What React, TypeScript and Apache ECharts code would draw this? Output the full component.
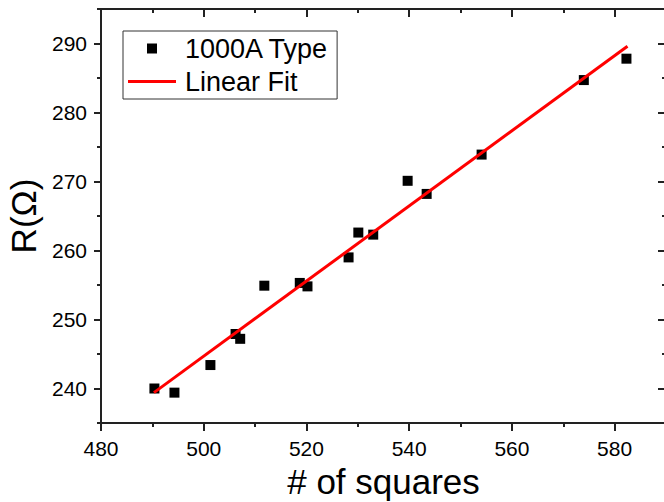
import React, { useEffect, useRef } from "react";
import * as echarts from "echarts";

const squaresX = [490.4, 494.3, 501.3, 506.2, 507.1, 511.8, 518.7, 520.2, 528.2, 530.1, 533.0, 539.7, 543.4, 554.1, 574.0, 582.3];
const resistanceY = [240.0, 239.4, 243.4, 247.9, 247.2, 254.9, 255.3, 254.8, 259.0, 262.6, 262.3, 270.1, 268.2, 273.9, 284.7, 287.8];
const fitX = [490.3, 582.5];
const fitY = [239.4, 289.6];
const xMajorTicks = [480, 500, 520, 540, 560, 580];
const xMinorTicks = [490, 510, 530, 550, 570, 590];
const yMajorTicks = [240, 250, 260, 270, 280, 290];
const yMinorTicks = [235, 245, 255, 265, 275, 285, 295];
const seriesNames = ["1000A Type", "Linear Fit"];

const FONT = "Liberation Sans, Arial, sans-serif";
const AXIS_COLOR = "#222";

export default function App() {
  const ref = useRef<HTMLDivElement>(null);

  useEffect(() => {
    if (!ref.current) return;
    const chart = echarts.init(ref.current, null, { renderer: "svg" });

    const xRange = { min: 480, max: 590 };
    const yRange = { min: 235, max: 295 };
    const line = { lineStyle: { color: AXIS_COLOR, width: 2 } };

    const xAxis = [
      {
        type: "value", position: "bottom", ...xRange,
        axisLine: { show: true, ...line },
        axisTick: { show: true, customValues: xMajorTicks, length: 8, inside: false, ...line },
        axisLabel: { customValues: xMajorTicks, fontSize: 21, color: "#000", fontFamily: FONT, margin: 15 },
        splitLine: { show: false },
        name: "# of squares", nameLocation: "middle", nameGap: 41,
        nameTextStyle: { fontSize: 35, color: "#000", fontFamily: FONT },
      },
      {
        type: "value", position: "bottom", ...xRange,
        axisLine: { show: false },
        axisTick: { show: true, customValues: xMinorTicks, length: 4, inside: false, ...line },
        axisLabel: { show: false },
        splitLine: { show: false },
      },
      {
        type: "value", position: "top", ...xRange,
        axisLine: { show: true, ...line },
        axisTick: { show: true, customValues: xMajorTicks, length: 8, inside: true, ...line },
        axisLabel: { show: false },
        splitLine: { show: false },
      },
      {
        type: "value", position: "top", ...xRange,
        axisLine: { show: false },
        axisTick: { show: true, customValues: xMinorTicks, length: 4, inside: true, ...line },
        axisLabel: { show: false },
        splitLine: { show: false },
      },
    ];

    const yAxis = [
      {
        type: "value", position: "left", ...yRange,
        axisLine: { show: true, ...line },
        axisTick: { show: true, customValues: yMajorTicks, length: 7, inside: false, ...line },
        axisLabel: { customValues: yMajorTicks, fontSize: 21, color: "#000", fontFamily: FONT, margin: 14 },
        splitLine: { show: false },
        name: "R(Ω)", nameLocation: "middle", nameGap: 60,
        nameTextStyle: { fontSize: 35, color: "#000", fontFamily: FONT },
      },
      {
        type: "value", position: "left", ...yRange,
        axisLine: { show: false },
        axisTick: { show: true, customValues: yMinorTicks, length: 4, inside: false, ...line },
        axisLabel: { show: false },
        splitLine: { show: false },
      },
      {
        type: "value", position: "right", ...yRange,
        axisLine: { show: true, ...line },
        axisTick: { show: true, customValues: yMajorTicks, length: 8, inside: true, ...line },
        axisLabel: { show: false },
        splitLine: { show: false },
      },
      {
        type: "value", position: "right", ...yRange,
        axisLine: { show: false },
        axisTick: { show: true, customValues: yMinorTicks, length: 4, inside: true, ...line },
        axisLabel: { show: false },
        splitLine: { show: false },
      },
    ];

    chart.setOption({
      animation: false,
      backgroundColor: "#fff",
      grid: { left: 101, right: -2, top: 9, bottom: 79, containLabel: false, outerBoundsMode: "none" },
      xAxis,
      yAxis,
      legend: {
        show: true,
        orient: "vertical",
        left: 123,
        top: 31,
        itemWidth: 48,
        itemHeight: 10,
        itemGap: 6,
        padding: [4, 8, 4, 5],
        borderColor: "#333",
        borderWidth: 1,
        borderRadius: 0,
        textStyle: { fontSize: 27, color: "#000", fontFamily: FONT, lineHeight: 27, padding: [0, 0, 0, 4] },
        data: [
          { name: seriesNames[0], icon: "path://M0,0L1,0L1,1L0,1Z", itemStyle: { color: "#000", opacity: 1 } },
          { name: seriesNames[1], icon: "path://M0,0L48,0L48,3L0,3Z", itemStyle: { color: "#ff0000", opacity: 1 } },
        ],
      },
      series: [
        {
          name: seriesNames[0],
          type: "scatter",
          xAxisIndex: 0,
          yAxisIndex: 0,
          symbol: "rect",
          symbolSize: 10,
          itemStyle: { color: "#000", opacity: 1 },
          data: squaresX.map((x, i) => [x, resistanceY[i]]),
          z: 3,
        },
        {
          name: seriesNames[1],
          type: "line",
          xAxisIndex: 0,
          yAxisIndex: 0,
          symbol: "none",
          showSymbol: false,
          lineStyle: { color: "#ff0000", width: 3 },
          itemStyle: { color: "#ff0000" },
          data: fitX.map((x, i) => [x, fitY[i]]),
          z: 4,
        },
      ],
    });

    return () => chart.dispose();
  }, []);

  return (
    <div
      ref={ref}
      style={{ position: "absolute", left: 0, top: 0, width: 664, height: 502 }}
    />
  );
}
